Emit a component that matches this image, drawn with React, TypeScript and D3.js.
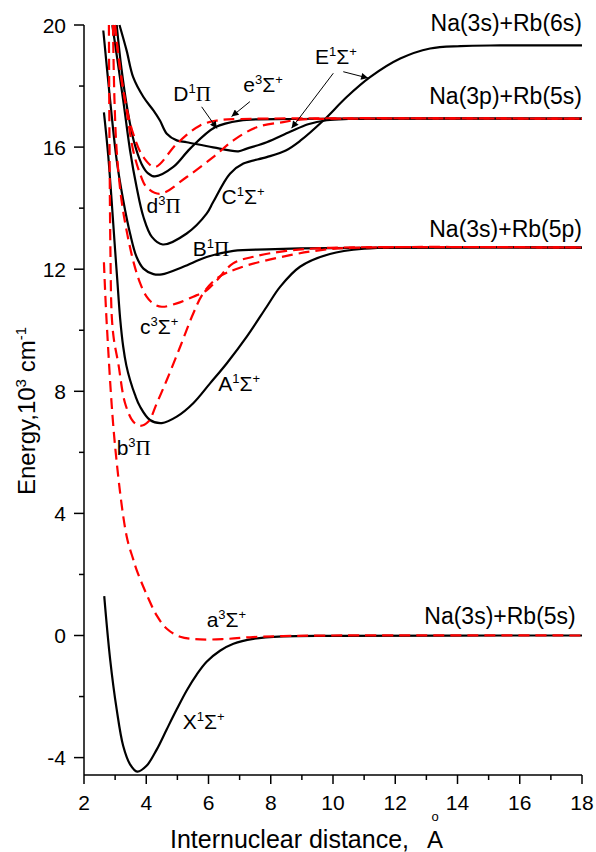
import React from "react";
import * as d3 from "d3";

// ---------- data (internuclear distance in Å, energy in 10^3 cm^-1) ----------
const X1S: [number, number][] = [
  [2.65, 1.29], [2.84, -0.78], [3.05, -2.42], [3.26, -3.62], [3.48, -4.22], [3.71, -4.46],
  [4.01, -4.27], [4.34, -3.73], [4.66, -3.07], [4.98, -2.42], [5.3, -1.8], [5.62, -1.28],
  [5.94, -0.86], [6.37, -0.5], [6.8, -0.27], [7.44, -0.11], [8.4, -0.03], [10, -0.01], [18, 0],
];
const a3S: [number, number][] = [
  [2.64, 12.23], [2.73, 10.23], [3.0, 6.19], [3.37, 3.25], [3.58, 2.5], [3.69, 2.15],
  [4.01, 1.35], [4.34, 0.65], [4.66, 0.22], [5.09, -0.04], [5.73, -0.13], [6.59, -0.11],
  [7.43, -0.05], [8.4, -0.02], [10, 0], [18, 0],
];
const A1S: [number, number][] = [
  [2.64, 17.14], [2.78, 15.7], [3.0, 12.62], [3.07, 11.64], [3.16, 10.4], [3.26, 9.46],
  [3.36, 8.85], [3.48, 8.37], [3.64, 7.88], [3.8, 7.5], [4.12, 7.06], [4.5, 6.96],
  [4.98, 7.17], [5.51, 7.61], [6.05, 8.26], [6.59, 8.92], [7.23, 9.79], [7.87, 10.77],
  [8.3, 11.42], [8.94, 12.08], [9.9, 12.5], [11, 12.67], [12.5, 12.71], [18, 12.71],
];
const b3P: [number, number][] = [
  [2.8, 20], [2.82, 16], [2.85, 12.5], [2.89, 10.5], [2.96, 9.7], [3.1, 8.92], [3.32, 7.61],
  [3.58, 7.01], [3.8, 6.87], [4.07, 7.01], [4.34, 7.61], [4.66, 8.37], [5.09, 9.46],
  [5.51, 10.55], [5.83, 11.21], [6.27, 11.7], [7.01, 12.05], [8.62, 12.46], [9.9, 12.66],
  [11, 12.71], [18, 12.71],
];
const B1P: [number, number][] = [
  [2.62, 19.82], [2.84, 17.53], [3.05, 15.57], [3.26, 14.26], [3.48, 13.17], [3.69, 12.4],
  [3.91, 12.02], [4.23, 11.84], [4.5, 11.83], [5.19, 12.08], [5.94, 12.4], [6.8, 12.6],
  [7.87, 12.65], [8.94, 12.68], [12, 12.71], [18, 12.71],
];
const c3S: [number, number][] = [
  [2.93, 20], [2.98, 17.5], [3.05, 15.89], [3.2, 14.3], [3.4, 13.1], [3.6, 12.2], [3.8, 11.55],
  [4.0, 11.12], [4.23, 10.87], [4.5, 10.77], [4.98, 10.88], [5.51, 11.1], [5.94, 11.31],
  [6.27, 11.64], [6.79, 12.19], [7.5, 12.42], [8.5, 12.6], [9.9, 12.7], [18, 12.71],
];
const C1S: [number, number][] = [
  [2.91, 20], [3.26, 17.53], [3.48, 15.89], [3.69, 14.69], [3.91, 13.71], [4.18, 13.06],
  [4.53, 12.81], [5.3, 13.17], [5.94, 13.82], [6.15, 14.2], [6.69, 15.13], [7.12, 15.46],
  [7.87, 15.67], [8.5, 15.9], [8.94, 16.2], [9.69, 16.87], [10.44, 17.64], [11.19, 18.29],
  [12.16, 18.9], [13.12, 19.23], [14.09, 19.31], [15.37, 19.33], [18, 19.33],
];
const d3P: [number, number][] = [
  [3.0, 20], [3.15, 18.6], [3.37, 17.2], [3.58, 15.89], [3.8, 15.13], [4.01, 14.69],
  [4.44, 14.47], [5.3, 15.02], [6.15, 15.67], [6.8, 16.22], [7.55, 16.65], [8.4, 16.82],
  [8.94, 16.9], [10, 16.93], [18, 16.93],
];
const D1P: [number, number][] = [
  [3.05, 20], [3.2, 18.6], [3.4, 17.2], [3.6, 16.2], [3.85, 15.45], [4.05, 15.15],
  [4.28, 15.04], [4.87, 15.35], [5.41, 15.95], [6.21, 16.65], [7.01, 16.87], [8.62, 16.92],
  [10, 16.93], [18, 16.93],
];
const e3S: [number, number][] = [
  [2.98, 20], [3.1, 19.05], [3.32, 17.53], [3.58, 16.44], [3.91, 15.67], [4.28, 15.35],
  [4.98, 16.11], [5.73, 16.71], [6.27, 16.87], [7, 16.92], [18, 16.93],
];
const E1S: [number, number][] = [
  [3.14, 20], [3.37, 19.16], [3.58, 18.29], [3.91, 17.64], [4.23, 17.2], [4.44, 16.87],
  [4.66, 16.44], [4.98, 16.22], [5.3, 16.16], [6.15, 15.99], [6.96, 15.86], [7.23, 15.95],
  [7.87, 16.16], [8.62, 16.5], [9.2, 16.75], [9.8, 16.88], [10.5, 16.92], [18, 16.93],
];

const singletCurves = [X1S, A1S, B1P, C1S, D1P, E1S];
const tripletCurves = [a3S, b3P, c3S, d3P, e3S];

const xMajorTicks = [2, 4, 6, 8, 10, 12, 14, 16, 18];
const xMinorTicks = [3, 5, 7, 9, 11, 13, 15, 17];
const yMajorTicks = [-4, 0, 4, 8, 12, 16, 20];
const yMinorTicks = [-2, 2, 6, 10, 14, 18];

// state labels: [letter, multiplicity, symbol, sign, r, E]
const stateLabels: [string, string, string, string, number, number][] = [
  ["X", "1", "Σ", "+", 5.17, -3.06],
  ["a", "3", "Σ", "+", 5.94, 0.28],
  ["b", "3", "Π", "", 3.05, 5.92],
  ["A", "1", "Σ", "+", 6.31, 8.01],
  ["c", "3", "Σ", "+", 3.8, 9.88],
  ["B", "1", "Π", "", 5.49, 12.43],
  ["C", "1", "Σ", "+", 6.42, 14.14],
  ["d", "3", "Π", "", 4.01, 13.84],
  ["D", "1", "Π", "", 4.87, 17.51],
  ["e", "3", "Σ", "+", 7.12, 17.81],
  ["E", "1", "Σ", "+", 9.42, 18.72],
];

const asymptoteLabels: [string, number, number][] = [
  ["Na(3s)+Rb(6s)", 18, 19.8],
  ["Na(3p)+Rb(5s)", 18, 17.41],
  ["Na(3s)+Rb(5p)", 18, 13.06],
  ["Na(3s)+Rb(5s)", 17.8, 0.38],
];

// arrows: [r1, E1, r2, E2]
const arrows: [number, number, number, number][] = [
  [5.78, 17.32, 6.27, 16.61],
  [7.33, 17.49, 6.74, 17.0],
  [10.01, 18.42, 8.67, 16.62],
  [10.33, 18.47, 11.13, 18.26],
];

// ---------- layout ----------
const W = 596;
const H = 852;
const xScale = d3.scaleLinear().domain([2, 18]).range([84, 582]);
const yScale = d3.scaleLinear().domain([-4.57, 20]).range([775, 25]);
const SANS = "'Liberation Sans', Arial, Helvetica, sans-serif";
const SERIF = "'Liberation Serif', 'Times New Roman', serif";

const line = d3
  .line<[number, number]>()
  .x((d) => xScale(d[0]))
  .y((d) => yScale(d[1]))
  .curve(d3.curveCatmullRom.alpha(0.5));

export default function App() {
  const x0 = xScale(2);
  const x1 = xScale(18);
  const yTop = yScale(20);
  const yBot = yScale(-4.57);
  return (
    <svg
      width={W}
      height={H}
      style={{ position: "absolute", left: 0, top: 0, background: "#fff" }}
      fontFamily={SANS}
    >
      <defs>
        <clipPath id="plot">
          <rect x={x0} y={yTop - 2} width={x1 - x0 + 2} height={yBot - yTop + 2} />
        </clipPath>
        <marker id="arr" viewBox="0 0 10 10" refX="10" refY="5" markerWidth="9" markerHeight="7" orient="auto" markerUnits="userSpaceOnUse">
          <path d="M0,0 L10,5 L0,10 z" fill="#000" />
        </marker>
      </defs>

      <g clipPath="url(#plot)">
        {singletCurves.map((c, i) => (
          <path key={"s" + i} d={line(c) || ""} fill="none" stroke="#000" strokeWidth={2.2} />
        ))}
        {tripletCurves.map((c, i) => (
          <path key={"t" + i} d={line(c) || ""} fill="none" stroke="#ff0000" strokeWidth={2.2} strokeDasharray="11,6" />
        ))}
      </g>

      {/* axes */}
      <line x1={x0} x2={x0} y1={yTop} y2={yBot} stroke="#000" strokeWidth={1.5} />
      <line x1={x0} x2={x1} y1={yBot} y2={yBot} stroke="#000" strokeWidth={1.5} />
      {xMajorTicks.map((t) => (
        <g key={"xm" + t}>
          <line x1={xScale(t)} x2={xScale(t)} y1={yBot} y2={yBot + 9} stroke="#000" strokeWidth={1.5} />
          <text x={xScale(t)} y={810} fontSize={21} textAnchor="middle">{t}</text>
        </g>
      ))}
      {xMinorTicks.map((t) => (
        <line key={"xn" + t} x1={xScale(t)} x2={xScale(t)} y1={yBot} y2={yBot + 5} stroke="#000" strokeWidth={1.5} />
      ))}
      {yMajorTicks.map((t) => (
        <g key={"ym" + t}>
          <line x1={x0 - 10} x2={x0} y1={yScale(t)} y2={yScale(t)} stroke="#000" strokeWidth={1.5} />
          <text x={66} y={yScale(t) + 7.5} fontSize={21} textAnchor="end">{t}</text>
        </g>
      ))}
      {yMinorTicks.map((t) => (
        <line key={"yn" + t} x1={x0 - 5} x2={x0} y1={yScale(t)} y2={yScale(t)} stroke="#000" strokeWidth={1.5} />
      ))}

      {/* axis titles */}
      <text x={170} y={848} fontSize={25}>Internuclear distance,</text>
      <text x={427} y={848} fontSize={24}>A</text>
      <text x={435} y={821} fontSize={13} textAnchor="middle">o</text>
      <text transform="translate(35,411) rotate(-90)" fontSize={24} textAnchor="middle">
        Energy,10<tspan fontSize={15} dy={-9}>3</tspan>
        <tspan dy={9}> cm</tspan>
        <tspan fontSize={15} dy={-9}>-1</tspan>
      </text>

      {/* asymptote labels */}
      {asymptoteLabels.map(([t, r, e]) => (
        <text key={t + e} x={xScale(r)} y={yScale(e)} fontSize={23} textAnchor="end">{t}</text>
      ))}

      {/* state labels */}
      {stateLabels.map(([l, m, s, sg, r, e]) => (
        <text key={l + m} x={xScale(r)} y={yScale(e)} fontSize={21}>
          {l}
          <tspan fontSize={13} dy={-8}>{m}</tspan>
          <tspan fontSize={21} dy={8} fontFamily={s === "Π" ? SERIF : SANS}>{s}</tspan>
          {sg ? <tspan fontSize={13} dy={-8}>{sg}</tspan> : null}
        </text>
      ))}

      {/* arrows */}
      {arrows.map(([r1, e1, r2, e2], i) => (
        <line key={"a" + i} x1={xScale(r1)} y1={yScale(e1)} x2={xScale(r2)} y2={yScale(e2)} stroke="#000" strokeWidth={1} markerEnd="url(#arr)" />
      ))}
    </svg>
  );
}
